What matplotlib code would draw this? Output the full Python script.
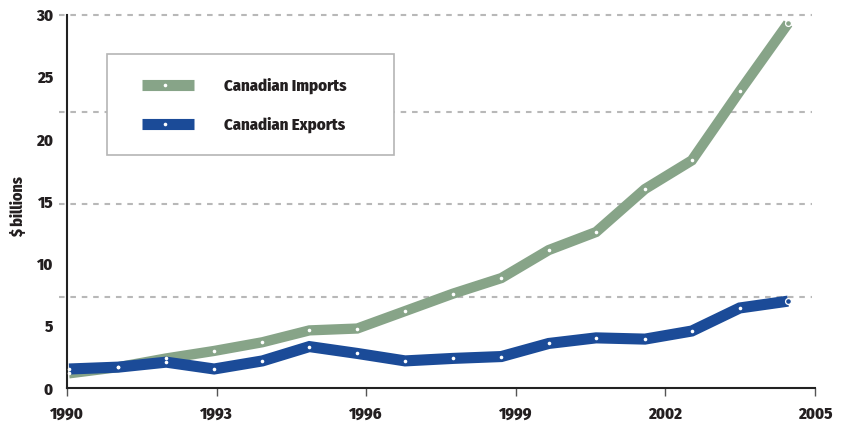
import matplotlib
matplotlib.use("Agg")
import matplotlib.pyplot as plt
from matplotlib.lines import Line2D
from matplotlib.patches import Rectangle

# ---- data ----
x_pos = [1990.04, 1991.03, 1991.99, 1992.95, 1993.92, 1994.86, 1995.82, 1996.78,
         1997.74, 1998.71, 1999.66, 2000.61, 2001.59, 2002.53, 2003.49, 2004.46]
imports = [1.2, 1.7, 2.4, 3.0, 3.7, 4.65, 4.8, 6.2,
           7.6, 8.85, 11.1, 12.55, 16.0, 18.3, 23.85, 29.3]
exports = [1.55, 1.7, 2.1, 1.55, 2.2, 3.35, 2.8, 2.2,
           2.4, 2.55, 3.6, 4.05, 3.95, 4.6, 6.45, 7.0]
x_ticks = [1990, 1993, 1996, 1999, 2002, 2005]
x_tick_labels = ["1990", "1993", "1996", "1999", "2002", "2005"]
y_ticks = [0, 5, 10, 15, 20, 25, 30]
y_tick_labels = ["0", "5", "10", "15", "20", "25", "30"]
grid_levels = [7.3, 14.8, 22.2, 30]
series_labels = ["Canadian Imports", "Canadian Exports"]
y_label = "$ billions"

C_IMP = "#87a488"
C_EXP = "#1b4b98"
TXT = "#231f20"
FONT = ["Fira Sans Condensed", "Roboto Condensed", "DejaVu Sans"]
WEIGHT = 800

plt.rcParams["font.family"] = FONT
plt.rcParams["font.weight"] = WEIGHT
plt.rcParams["lines.scale_dashes"] = False

W, H = 846, 421
fig = plt.figure(figsize=(W / 100, H / 100), dpi=100)
fig.patch.set_facecolor("white")

def fx(px):
    return px / W

def fy(py):
    return 1 - py / H

ax = fig.add_axes([fx(67), fy(388.3), fx(815) - fx(67), fy(14.7) - fy(388.3)])
ax.set_xlim(1990, 2005)
ax.set_ylim(0, 30)

# gridlines
for g in grid_levels:
    ax.axhline(g, xmin=-0.0107, xmax=0.996, color="#b8b8b8", lw=1.5,
               linestyle=(0, (4.0, 4.2)), clip_on=False, zorder=1)

# series
ax.plot(x_pos, imports, color=C_IMP, lw=7.4, solid_joinstyle="miter",
        solid_capstyle="butt", zorder=3, clip_on=False)
ax.plot(x_pos, exports, color=C_EXP, lw=8.0, solid_joinstyle="miter",
        solid_capstyle="butt", zorder=4, clip_on=False)
ax.plot(x_pos[:-1], imports[:-1], "o", ms=2.6, mfc="white", mec="white", mew=0, zorder=5, clip_on=False)
ax.plot(x_pos[:-1], exports[:-1], "o", ms=2.6, mfc="white", mec="white", mew=0, zorder=5, clip_on=False)
ax.plot(x_pos[-1:], imports[-1:], "o", ms=4.2, mfc=C_IMP, mec="white", mew=0.9, zorder=5, clip_on=False)
ax.plot(x_pos[-1:], exports[-1:], "o", ms=4.2, mfc=C_EXP, mec="white", mew=0.9, zorder=5, clip_on=False)

# axes styling
for s in ["top", "right"]:
    ax.spines[s].set_visible(False)
for s in ["left", "bottom"]:
    ax.spines[s].set_color("#222222")
    ax.spines[s].set_linewidth(1.5)

ax.set_xticks(x_ticks)
ax.set_xticklabels(x_tick_labels)
ax.set_yticks(y_ticks)
ax.set_yticklabels(y_tick_labels)
ax.tick_params(axis="x", length=6, width=1, color="#555555", pad=7,
               labelsize=12, labelcolor=TXT)
ax.tick_params(axis="y", length=0, pad=10, labelsize=12, labelcolor=TXT)
for lab in ax.get_xticklabels() + ax.get_yticklabels():
    lab.set_fontweight(WEIGHT)

fig.text(fx(18), fy(207), y_label, rotation=90, ha="center", va="center",
         fontsize=11.5, fontweight=WEIGHT, color=TXT)

# legend (manual box)
fig.patches.append(Rectangle((fx(107), fy(155)), fx(394) - fx(107), fy(54) - fy(155),
                             transform=fig.transFigure, facecolor="white",
                             edgecolor="#b5b5b5", lw=1.2, zorder=10))
for lab, col, yc in [(series_labels[0], C_IMP, 84.5), (series_labels[1], C_EXP, 123.5)]:
    fig.add_artist(Line2D([fx(142), fx(194)], [fy(yc), fy(yc)], color=col, lw=8,
                          solid_capstyle="butt", transform=fig.transFigure, zorder=11))
    fig.add_artist(Line2D([fx(165)], [fy(yc)], marker="o", ms=2.6, mfc="white",
                          mec="white", mew=0, transform=fig.transFigure, zorder=12))
    fig.text(fx(224), fy(yc + 1), lab, ha="left", va="center", fontsize=12,
             fontweight=WEIGHT, color=TXT, zorder=12)

fig.savefig("out.png", dpi=100, facecolor="white")
